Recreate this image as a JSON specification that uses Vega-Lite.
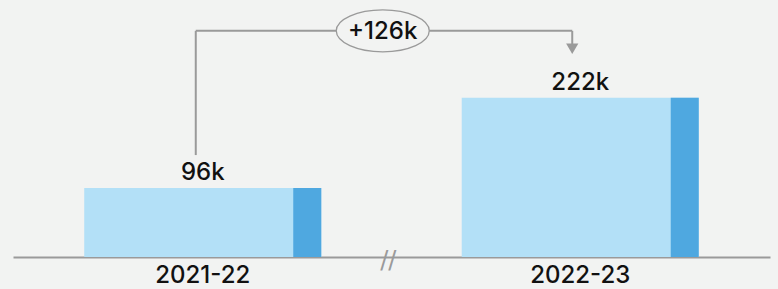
{
  "$schema": "https://vega.github.io/schema/vega-lite/v6.json",
  "width": 757,
  "height": 257,
  "autosize": {"type": "none"},
  "padding": {"left": 13, "top": 0, "right": 8, "bottom": 32},
  "background": "#f2f3f2",
  "config": {"view": {"stroke": null}, "font": "Inter"},
  "datasets": {
    "bars": [
      {"year": "2021-22", "value": 96, "label": "96k"},
      {"year": "2022-23", "value": 222, "label": "222k"}
    ],
    "ann": [
      {"from": "2021-22", "to": "2022-23", "label": "+126k"}
    ]
  },
  "encoding": {
    "x": {
      "field": "year",
      "type": "nominal",
      "scale": {"paddingInner": 0.372, "paddingOuter": 0.1887},
      "axis": {
        "title": null,
        "labelAngle": 0,
        "labelFontSize": 24,
        "labelFontWeight": 500,
        "labelColor": "#111111",
        "labelPadding": 6,
        "domainColor": "#9a9a9a",
        "domainWidth": 2,
        "ticks": false
      }
    }
  },
  "layer": [
    {
      "data": {"name": "bars"},
      "mark": {"type": "bar", "color": "#b3e0f7"},
      "encoding": {
        "y": {"field": "value", "type": "quantitative", "scale": {"domain": [0, 358], "nice": false, "zero": true}, "axis": null}
      }
    },
    {
      "data": {"name": "bars"},
      "mark": {"type": "bar", "color": "#4fa8e0", "width": 28, "xOffset": 104.5},
      "encoding": {
        "y": {"field": "value", "type": "quantitative"}
      }
    },
    {
      "data": {"name": "bars"},
      "mark": {"type": "text", "fontSize": 24, "fontWeight": 500, "color": "#111111", "baseline": "alphabetic", "dy": -8},
      "encoding": {
        "y": {"field": "value", "type": "quantitative"},
        "text": {"field": "label"}
      }
    },
    {
      "data": {"name": "ann"},
      "mark": {"type": "rule", "color": "#9a9a9a", "strokeWidth": 2, "xOffset": -7},
      "encoding": {
        "x": {"field": "from", "type": "nominal"},
        "y": {"datum": 142, "type": "quantitative"},
        "y2": {"datum": 315}
      }
    },
    {
      "data": {"name": "ann"},
      "mark": {"type": "rule", "color": "#9a9a9a", "strokeWidth": 2, "xOffset": -7, "x2Offset": -8},
      "encoding": {
        "x": {"field": "from", "type": "nominal"},
        "x2": {"field": "to"},
        "y": {"datum": 315, "type": "quantitative"}
      }
    },
    {
      "data": {"name": "ann"},
      "mark": {"type": "rule", "color": "#9a9a9a", "strokeWidth": 2, "xOffset": -8},
      "encoding": {
        "x": {"field": "to", "type": "nominal"},
        "y": {"datum": 315, "type": "quantitative"},
        "y2": {"datum": 295}
      }
    },
    {
      "data": {"name": "ann"},
      "mark": {"type": "point", "shape": "triangle-down", "filled": true, "color": "#9a9a9a", "size": 150, "opacity": 1, "xOffset": -8},
      "encoding": {
        "x": {"field": "to", "type": "nominal"},
        "y": {"datum": 290, "type": "quantitative"}
      }
    },
    {
      "data": {"name": "ann"},
      "mark": {"type": "point", "shape": "M-1,0A1,0.45,0,1,1,1,0A1,0.45,0,1,1,-1,0Z", "filled": false, "fill": "#f2f3f2", "fillOpacity": 1, "stroke": "#9a9a9a", "strokeWidth": 1.3, "opacity": 1, "size": 8649, "xOffset": 180},
      "encoding": {
        "x": {"field": "from", "type": "nominal"},
        "y": {"datum": 315, "type": "quantitative"}
      }
    },
    {
      "data": {"name": "ann"},
      "mark": {"type": "text", "fontSize": 24, "fontWeight": 500, "color": "#111111", "baseline": "middle", "xOffset": 180, "dy": 1},
      "encoding": {
        "x": {"field": "from", "type": "nominal"},
        "y": {"datum": 315, "type": "quantitative"},
        "text": {"field": "label"}
      }
    },
    {
      "data": {"name": "ann"},
      "mark": {"type": "text", "fontSize": 24, "color": "#9a9a9a", "baseline": "middle", "xOffset": 185.5, "dy": 4, "font": "DejaVu Sans"},
      "encoding": {
        "x": {"field": "from", "type": "nominal"},
        "y": {"datum": 0, "type": "quantitative"},
        "text": {"value": "//"}
      }
    }
  ]
}
